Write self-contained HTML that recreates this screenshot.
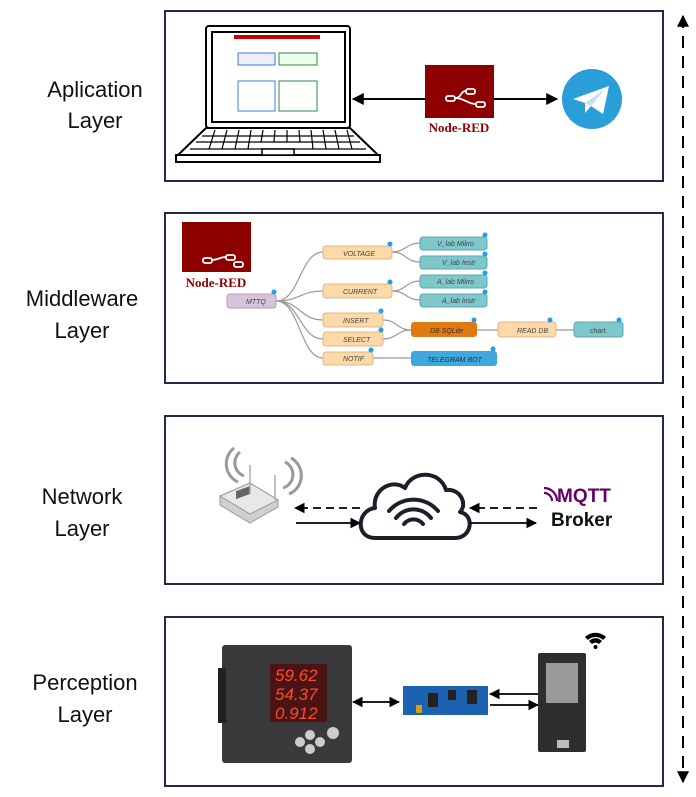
<!DOCTYPE html>
<html><head><meta charset="utf-8"><style>
html,body{margin:0;padding:0;background:#fff;}
svg{display:block;font-family:"Liberation Sans",sans-serif;}
</style></head><body>
<svg width="696" height="797" viewBox="0 0 696 797" xmlns="http://www.w3.org/2000/svg">
<defs>
<marker id="ah" viewBox="0 0 10 10" refX="9" refY="5" markerWidth="6" markerHeight="6" orient="auto-start-reverse"><path d="M0,0L10,5L0,10z" fill="#000"/></marker>
</defs>
<g fill="none" stroke="#1f2a4f" stroke-width="2">
<rect x="165" y="11" width="498" height="170"/>
<rect x="165" y="213" width="498" height="170"/>
<rect x="165" y="416" width="498" height="168"/>
<rect x="165" y="617" width="498" height="169"/>
</g>
<line x1="683" y1="16" x2="683" y2="782" stroke="#000" stroke-width="2" stroke-dasharray="12,8" marker-start="url(#ah)" marker-end="url(#ah)"/>
<g font-size="22" text-anchor="middle" fill="#111">
<text x="95" y="97">Aplication</text><text x="95" y="128">Layer</text>
<text x="82" y="306">Middleware</text><text x="82" y="338">Layer</text>
<text x="82" y="504">Network</text><text x="82" y="536">Layer</text>
<text x="85" y="690">Perception</text><text x="85" y="722">Layer</text>
</g>
<!-- laptop -->
<rect x="206" y="26" width="144" height="102" rx="3" fill="#fff" stroke="#000" stroke-width="2"/>
<rect x="212" y="32" width="133" height="90" fill="#fff" stroke="#000" stroke-width="2"/>
<rect x="234" y="35" width="86" height="4" fill="#c00"/>
<rect x="238" y="53" width="37" height="12" fill="#eef" stroke="#3a7be0"/>
<rect x="279" y="53" width="38" height="12" fill="#efe" stroke="#2a8a40"/>
<rect x="238" y="81" width="37" height="30" fill="#fff" stroke="#3a7be0"/>
<rect x="279" y="81" width="38" height="30" fill="#fff" stroke="#2a8a40"/>
<path d="M206,128 L178,155 L378,155 L350,128Z" fill="#fff" stroke="#000" stroke-width="2"/>
<path d="M176,155 L380,155 L380,162 L176,162Z" fill="#fff" stroke="#000" stroke-width="2"/>
<g stroke="#000" stroke-width="1.3">
<line x1="202" y1="136" x2="354" y2="136"/><line x1="196" y1="142" x2="360" y2="142"/><line x1="190" y1="149" x2="366" y2="149"/>
</g>
<g stroke="#000" stroke-width="1.2">
<line x1="215" y1="130" x2="209" y2="149"/><line x1="227" y1="130" x2="222" y2="149"/><line x1="239" y1="130" x2="235" y2="149"/><line x1="251" y1="130" x2="248" y2="149"/><line x1="263" y1="130" x2="261" y2="142"/><line x1="275" y1="130" x2="274" y2="142"/><line x1="287" y1="130" x2="287" y2="142"/><line x1="299" y1="130" x2="300" y2="142"/><line x1="311" y1="130" x2="313" y2="149"/><line x1="323" y1="130" x2="326" y2="149"/><line x1="335" y1="130" x2="339" y2="149"/><line x1="347" y1="130" x2="352" y2="149"/>
</g>
<rect x="262" y="149" width="32" height="6" fill="#fff" stroke="#000" stroke-width="1.5"/>
<!-- node red app -->
<rect x="425" y="65" width="69" height="53" fill="#8c0000"/>
<g fill="none" stroke="#fff" stroke-width="1.8"><rect x="446" y="96" width="9" height="5" rx="2"/><rect x="466" y="89" width="9" height="5" rx="2"/><rect x="476" y="102" width="9" height="5" rx="2"/><path d="M455,98 C462,98 460,91 466,91 M455,98 C464,98 468,104 476,104"/></g>
<text x="459" y="132" font-size="13" font-weight="bold" fill="#8c0000" text-anchor="middle" font-family="Liberation Serif,serif">Node-RED</text>
<line x1="425" y1="99" x2="353" y2="99" stroke="#000" stroke-width="2" marker-end="url(#ah)"/>
<line x1="494" y1="99" x2="557" y2="99" stroke="#000" stroke-width="2" marker-end="url(#ah)"/>
<circle cx="592" cy="99" r="30" fill="#2a9ed9"/>
<path d="M573,99 L609,86 L603,114 L591,106 L585,113 L585,103Z" fill="#fff"/>
<path d="M585,103 L605,89 L591,106Z" fill="#c8dff0"/>
<!-- middleware -->
<rect x="182" y="222" width="69" height="50" fill="#8c0000"/>
<g fill="none" stroke="#fff" stroke-width="1.8"><rect x="203" y="258" width="9" height="5" rx="2"/><rect x="226" y="255" width="9" height="5" rx="2"/><rect x="236" y="266" width="9" height="5" rx="2" transform="translate(-2,-4)"/><path d="M212,260 C219,260 219,257 226,257"/></g>
<text x="216" y="287" font-size="13" font-weight="bold" fill="#8c0000" text-anchor="middle" font-family="Liberation Serif,serif">Node-RED</text>
<g fill="none" stroke="#999" stroke-width="1.2">
<path d="M276,301 C300,301 300,252 323,252"/><path d="M276,301 C300,301 300,291 323,291"/><path d="M276,301 C300,301 300,320 323,320"/><path d="M276,301 C300,301 300,339 323,339"/><path d="M276,301 C300,301 300,358 323,358"/>
<path d="M392,252 C406,252 406,243 420,243"/><path d="M392,252 C406,252 406,262 420,262"/>
<path d="M392,291 C406,291 406,281 420,281"/><path d="M392,291 C406,291 406,300 420,300"/>
<path d="M383,320 C397,320 397,330 411,330"/><path d="M383,339 C397,339 397,330 411,330"/>
<path d="M477,330 L498,330 M556,330 L574,330 M373,358 L411,358"/>
</g>
<g font-size="7" font-style="italic" fill="#444">
<rect x="227" y="294" width="49" height="14" rx="3" fill="#d8c3dd" stroke="#b9a"/><text x="246" y="304">MTTQ</text>
<g fill="#fcd9a8" stroke="#e0b880">
<rect x="323" y="246" width="69" height="13" rx="3"/><rect x="323" y="284" width="69" height="14" rx="3"/><rect x="323" y="313" width="60" height="14" rx="3"/><rect x="323" y="332" width="60" height="14" rx="3"/><rect x="323" y="352" width="50" height="13" rx="3"/><rect x="498" y="322" width="58" height="15" rx="3"/>
</g>
<text x="343" y="256">VOLTAGE</text><text x="343" y="294">CURRENT</text><text x="343" y="323">INSERT</text><text x="343" y="342">SELECT</text><text x="343" y="361">NOTIF</text><text x="517" y="333">READ DB</text>
<g fill="#7ec8cc" stroke="#5aa8ad">
<rect x="420" y="237" width="67" height="13" rx="3"/><rect x="420" y="256" width="67" height="13" rx="3"/><rect x="420" y="275" width="67" height="13" rx="3"/><rect x="420" y="294" width="67" height="13" rx="3"/><rect x="574" y="322" width="49" height="15" rx="3"/>
</g>
<text x="437" y="246">V_lab Mikro</text><text x="442" y="265">V_lab Instr</text><text x="437" y="284">A_lab Mikro</text><text x="442" y="303">A_lab Instr</text><text x="590" y="333" font-style="normal">chart</text>
<rect x="411" y="322" width="66" height="15" rx="3" fill="#e07a10"/><text x="430" y="333" fill="#333">DB SQLite</text>
<rect x="411" y="351" width="86" height="15" rx="3" fill="#3fa8dc"/><text x="427" y="362" fill="#234">TELEGRAM BOT</text>
</g>
<g fill="#1aa0ef"><circle cx="390" cy="244" r="2.5"/><circle cx="390" cy="282" r="2.5"/><circle cx="381" cy="311" r="2.5"/><circle cx="381" cy="330" r="2.5"/><circle cx="371" cy="350" r="2.5"/><circle cx="274" cy="292" r="2.5"/><circle cx="485" cy="235" r="2.5"/><circle cx="485" cy="254" r="2.5"/><circle cx="485" cy="273" r="2.5"/><circle cx="485" cy="292" r="2.5"/><circle cx="474" cy="320" r="2.5"/><circle cx="550" cy="320" r="2.5"/><circle cx="619" cy="320" r="2.5"/><circle cx="493" cy="349" r="2.5"/></g>
<!-- network -->
<path d="M220,496 L250,483 L278,500 L278,507 L250,523 L220,505Z" fill="#d0d0d0" stroke="#999"/>
<path d="M220,496 L250,483 L278,500 L250,514Z" fill="#e8e8e8" stroke="#999"/>
<rect x="236" y="491" width="14" height="8" fill="#666" transform="skewY(-20) translate(0,86)"/>
<g stroke="#aaa" stroke-width="1.5"><line x1="250" y1="465" x2="250" y2="494"/><line x1="275" y1="475" x2="275" y2="500"/></g>
<g fill="none" stroke="#999" stroke-width="3"><path d="M240,452 A14,14 0 0,0 244,476"/><path d="M234,448 A20,20 0 0,0 238,482"/><path d="M285,462 A14,14 0 0,1 283,488"/><path d="M291,458 A20,20 0 0,1 289,494"/></g>
<path d="M375,538 C355,538 357,510 375,508 C372,490 392,478 405,488 C412,470 440,470 446,490 C460,488 468,504 460,512 C475,515 472,538 455,538Z" fill="#fff" stroke="#1a1f2a" stroke-width="4" stroke-linejoin="round"/>
<g fill="none" stroke="#1a1f2a" stroke-width="4" stroke-linecap="round"><path d="M389,511 A32,32 0 0,1 438,511"/><path d="M396,518 A22,22 0 0,1 431,518"/><path d="M404,524 A12,12 0 0,1 423,524"/></g>
<g stroke="#000" stroke-width="1.8">
<line x1="360" y1="508" x2="295" y2="508" stroke-dasharray="8,5" marker-end="url(#ah)"/>
<line x1="296" y1="523" x2="360" y2="523" marker-end="url(#ah)"/>
<line x1="537" y1="508" x2="470" y2="508" stroke-dasharray="8,5" marker-end="url(#ah)"/>
<line x1="470" y1="523" x2="536" y2="523" marker-end="url(#ah)"/>
</g>
<g fill="none" stroke="#660066" stroke-width="2.2"><path d="M544,488 A13,13 0 0,1 557,501"/><path d="M544,493 A8,8 0 0,1 552,501"/></g>
<text x="557" y="502" font-size="19" font-weight="bold" fill="#660066">MQTT</text>
<text x="551" y="526" font-size="19" font-weight="bold" fill="#111">Broker</text>
<!-- perception -->
<rect x="222" y="645" width="130" height="118" rx="3" fill="#3a3a3c"/>
<rect x="218" y="668" width="8" height="55" fill="#222"/>
<rect x="270" y="664" width="57" height="58" fill="#4a1414"/>
<g font-size="17" fill="#ff4a2a" font-style="italic"><text x="275" y="681">59.62</text><text x="275" y="700">54.37</text><text x="275" y="719">0.912</text></g>
<g fill="#ccc"><circle cx="300" cy="742" r="5"/><circle cx="310" cy="735" r="5"/><circle cx="310" cy="749" r="5"/><circle cx="320" cy="742" r="5"/><circle cx="333" cy="733" r="6"/></g>
<line x1="353" y1="702" x2="399" y2="702" stroke="#000" stroke-width="1.8" marker-start="url(#ah)" marker-end="url(#ah)"/>
<rect x="403" y="686" width="85" height="29" fill="#1c62b0"/>
<rect x="428" y="693" width="10" height="14" fill="#222"/><rect x="448" y="690" width="8" height="10" fill="#222"/><rect x="467" y="690" width="10" height="14" fill="#222"/><rect x="416" y="705" width="6" height="8" fill="#d4a020"/>
<line x1="538" y1="694" x2="490" y2="694" stroke="#000" stroke-width="1.8" marker-end="url(#ah)"/>
<line x1="490" y1="705" x2="538" y2="705" stroke="#000" stroke-width="1.8" marker-end="url(#ah)"/>
<rect x="538" y="653" width="48" height="99" rx="2" fill="#2e2e30"/>
<rect x="546" y="663" width="32" height="40" fill="#9a9a9c"/>
<rect x="557" y="740" width="12" height="8" fill="#bbb"/>
<g fill="#000"><path d="M585,637 A15,15 0 0,1 606,637 L603,640 A11,11 0 0,0 588,640Z"/><path d="M589,641 A9,9 0 0,1 602,641 L599,644 A5,5 0 0,0 592,644Z"/><circle cx="595.5" cy="647" r="2"/></g>
</svg>
</body></html>
